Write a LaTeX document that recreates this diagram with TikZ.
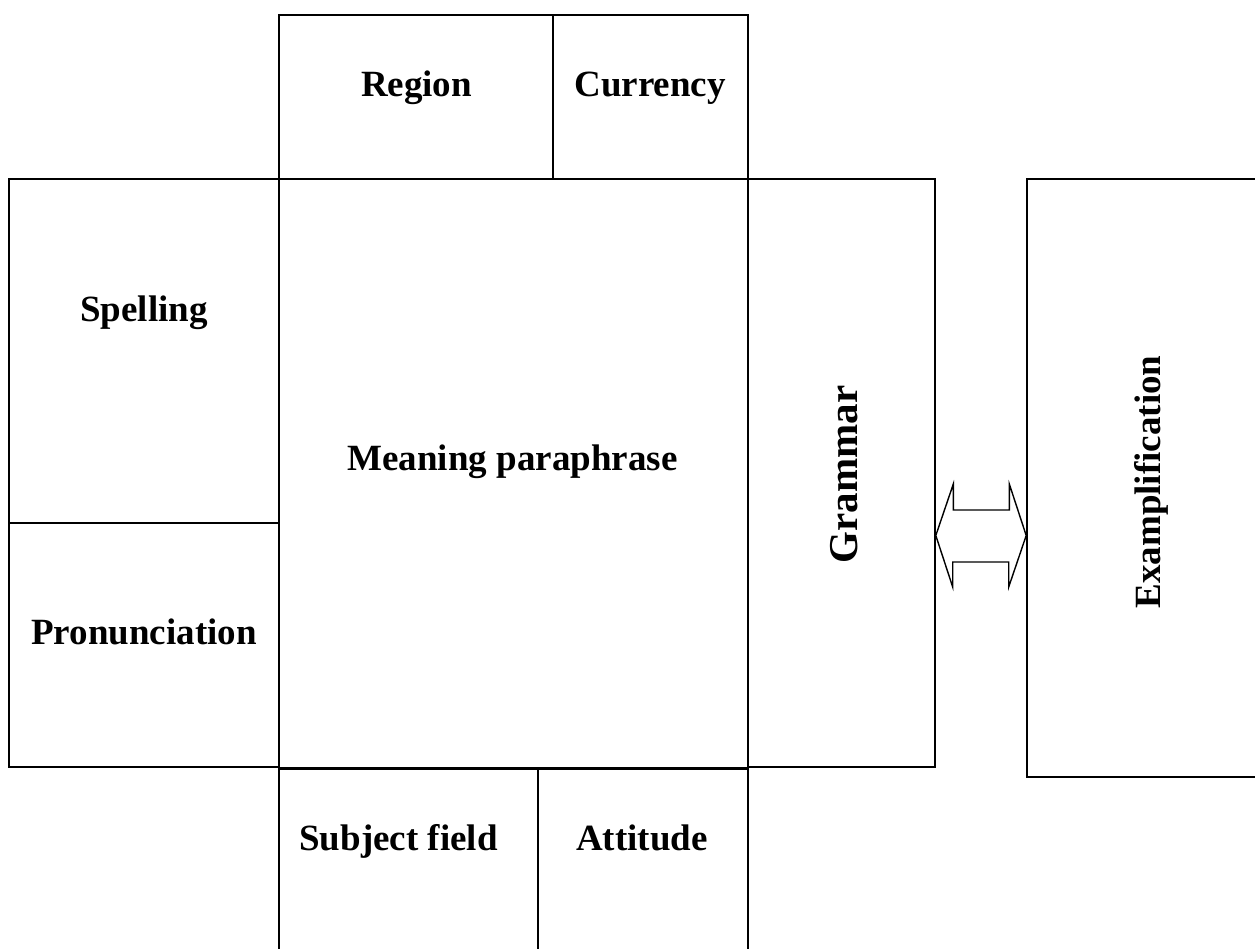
\documentclass[tikz,border=0pt]{standalone}
\usepackage{fontspec}
\setmainfont{Liberation Serif}

\begin{document}
\begin{tikzpicture}[x = 1pt, y = -1pt,
  cell/.style = {draw = black, line width = 1.6pt, inner sep = 0pt},
  word/.style = {anchor = base, inner sep = 0pt, font = \bfseries\fontsize{37}{44}\selectfont},
  edge/.style = {draw = black, line width = 1.4pt}]
\useasboundingbox (0, 0) rectangle (1255, 949);

\node [cell, minimum width = 274pt, minimum height = 164pt] (region) at (416, 97) {};
\node [cell, minimum width = 195pt, minimum height = 164pt] (currency) at (650.5, 97) {};
\node [word] (regiontxt) at (416.5, 97) {Region};
\node [word] (currencytxt) at (650, 97) {Currency};

\node [cell, minimum width = 270pt, minimum height = 344pt] (spelling) at (144, 351) {};
\node [cell, minimum width = 270pt, minimum height = 244pt] (pron) at (144, 645) {};
\node [word] (spellingtxt) at (144, 322) {Spelling};
\node [word] (prontxt) at (144, 644) {Pronunciation};

\node [cell, minimum width = 469pt, minimum height = 589pt] (meaning) at (513.5, 473.5) {};
\node [word] (meaningtxt) at (512.5, 470) {Meaning paraphrase};

\node [cell, minimum width = 187pt, minimum height = 588pt] (grammar) at (841.5, 473) {};
\node [word, rotate = 90, font = \bfseries\fontsize{41}{48}\selectfont] (grammartxt) at (857, 474.5) {Grammar};

\node [cell, minimum width = 240pt, minimum height = 598pt] (examp) at (1147, 478) {};
\node [word, rotate = 90] (examptxt) at (1160, 482) {Examplification};

\node [cell, minimum width = 259pt, minimum height = 220pt] (subject) at (408.5, 878) {};
\node [cell, minimum width = 210pt, minimum height = 220pt] (attitude) at (643, 878) {};
\node [word] (subjecttxt) at (398.5, 850) {Subject field};
\node [word] (attitudetxt) at (642, 850) {Attitude};
\path [draw, line width = 3pt] (meaning.south west) -- (meaning.south east);

% two-way arrow between grammar and examples
\coordinate (ltip) at (grammar.east |- 0, 535.5);
\coordinate (rtip) at (examp.west |- 0, 535.5);
\path [edge, line join = miter] (ltip) -- ++(17.5, -51.5) -- ++(0, 26) -- ++(56, 0) -- ++(0, -26)
  -- (rtip) -- ++(-17.5, 51.5) -- ++(0, -25) -- ++(-56, 0) -- ++(0, 25) -- cycle;
\end{tikzpicture}
\end{document}
